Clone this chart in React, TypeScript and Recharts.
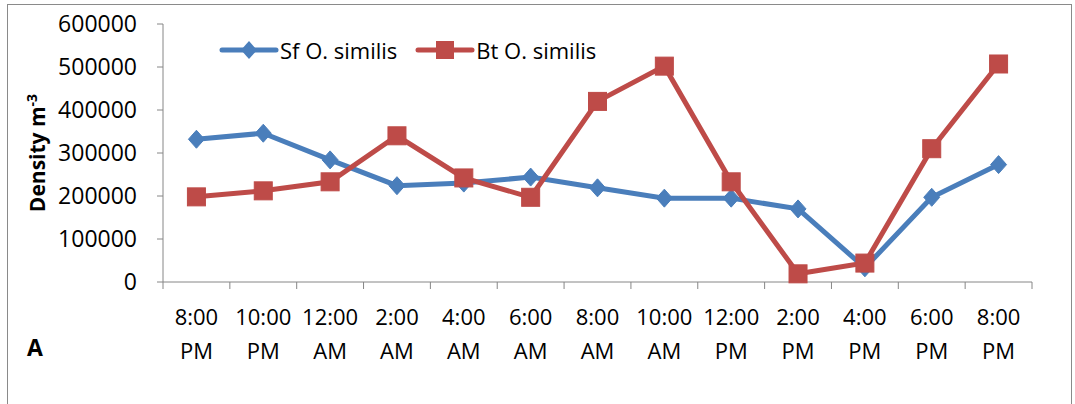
import React from 'react';
import { LineChart, Line, XAxis, YAxis } from 'recharts';

const times = ['8:00 PM', '10:00 PM', '12:00 AM', '2:00 AM', '4:00 AM', '6:00 AM', '8:00 AM', '10:00 AM', '12:00 PM', '2:00 PM', '4:00 PM', '6:00 PM', '8:00 PM'];
const sfValues = [332000, 346000, 284000, 224000, 230000, 244000, 219000, 195000, 195000, 170000, 33000, 197000, 273000];
const btValues = [198000, 212000, 233000, 340000, 242000, 197000, 420000, 502000, 233000, 19000, 44000, 310000, 507000];
const yTicks = [0, 100000, 200000, 300000, 400000, 500000, 600000];
const xBoundaries = [0, 1, 2, 3, 4, 5, 6, 7, 8, 9, 10, 11, 12, 13];
const seriesNames = ['Sf O. similis', 'Bt O. similis'];

const data = times.map((t, i) => ({ x: i + 0.5, time: t, sf: sfValues[i], bt: btValues[i] }));

const BLUE = '#4A7EBB';
const RED = '#BE4B48';
const AXIS = '#868686';
const FONT = '"Open Sans", sans-serif';

const W = 1075;
const H = 404;
const MARGIN = { top: 24, right: 43, bottom: 0, left: 0 };
const X_AXIS_H = 122;
const Y_AXIS_W = 163;
const BAND = (W - MARGIN.left - MARGIN.right - Y_AXIS_W) / times.length;

const Diamond = (props: any) => {
  const { cx, cy, index } = props;
  if (cx == null || cy == null) return <g key={`d${index}`} />;
  return <path key={`d${index}`} d={`M${cx},${cy - 9} L${cx + 8},${cy} L${cx},${cy + 9} L${cx - 8},${cy} Z`} fill={BLUE} stroke={BLUE} strokeWidth={1} />;
};

const Square = (props: any) => {
  const { cx, cy, index } = props;
  if (cx == null || cy == null) return <g key={`s${index}`} />;
  return <rect key={`s${index}`} x={cx - 9} y={cy - 9} width={18} height={18} fill={RED} stroke={RED} strokeWidth={1} />;
};

const XTick = (props: any) => {
  const { x, y, payload } = props;
  const label = times[payload.value];
  if (!label) return <g />;
  const [a, b] = label.split(' ');
  const cx = x + BAND / 2;
  return (
    <g>
      <text x={cx} y={y + 34} textAnchor="middle" fontFamily={FONT} fontSize={22} fill="#000">{a}</text>
      <text x={cx} y={y + 68} textAnchor="middle" fontFamily={FONT} fontSize={22} fill="#000">{b}</text>
    </g>
  );
};

const LegendBox = () => (
  <div style={{ position: 'absolute', left: 219, top: 35, display: 'flex', alignItems: 'center', fontFamily: FONT, fontSize: 22, color: '#000', whiteSpace: 'nowrap' }}>
    <svg width={60} height={22}>
      <line x1={3} y1={11} x2={57} y2={11} stroke={BLUE} strokeWidth={5} strokeLinecap="round" />
      <path d="M30,2 L38,11 L30,20 L22,11 Z" fill={BLUE} />
    </svg>
    <span style={{ marginLeft: 1, marginRight: 18 }}>{seriesNames[0]}</span>
    <svg width={60} height={22}>
      <line x1={3} y1={11} x2={57} y2={11} stroke={RED} strokeWidth={5} strokeLinecap="round" />
      <rect x={21} y={2} width={18} height={18} fill={RED} />
    </svg>
    <span style={{ marginLeft: 1 }}>{seriesNames[1]}</span>
  </div>
);

const YLabel = () => (
  <text transform="translate(45,153) rotate(-90)" textAnchor="middle" fontFamily={FONT} fontSize={21} fontWeight="bold" fill="#000">
    Density m<tspan dy={-8} fontSize={14}>-3</tspan>
  </text>
);

export default function App() {
  return (
    <div style={{ position: 'absolute', left: 0, top: 0, width: W, height: H, overflow: 'hidden', background: '#fff' }}>
      <div style={{ position: 'absolute', left: 7, top: 4, width: 1063, height: 430, border: '1px solid #8a8a8a' }} />
      <div style={{ position: 'absolute', left: 27, top: 331, fontFamily: FONT, fontSize: 23, fontWeight: 'bold' }}>A</div>
      <div style={{ position: 'absolute', left: 0, top: 0 }}>
        <LineChart width={W} height={H} data={data} margin={MARGIN}>
          <XAxis
            type="number"
            dataKey="x"
            domain={[0, 13]}
            ticks={xBoundaries}
            interval={0}
            stroke={AXIS}
            tickLine={{ stroke: AXIS }}
            tickSize={7}
            tick={<XTick />}
            height={X_AXIS_H}
          />
          <YAxis
            domain={[0, 600000]}
            ticks={yTicks}
            interval={0}
            width={Y_AXIS_W}
            stroke={AXIS}
            tickLine={{ stroke: AXIS }}
            tickSize={6}
            tickMargin={20}
            tick={{ fontFamily: FONT, fontSize: 23, fill: '#000' }}
            label={<YLabel />}
          />
          <Line type="linear" dataKey="sf" name={seriesNames[0]} stroke={BLUE} strokeWidth={5} dot={<Diamond />} activeDot={false} isAnimationActive={false} />
          <Line type="linear" dataKey="bt" name={seriesNames[1]} stroke={RED} strokeWidth={5} dot={<Square />} activeDot={false} isAnimationActive={false} />
        </LineChart>
      </div>
      <LegendBox />
    </div>
  );
}
